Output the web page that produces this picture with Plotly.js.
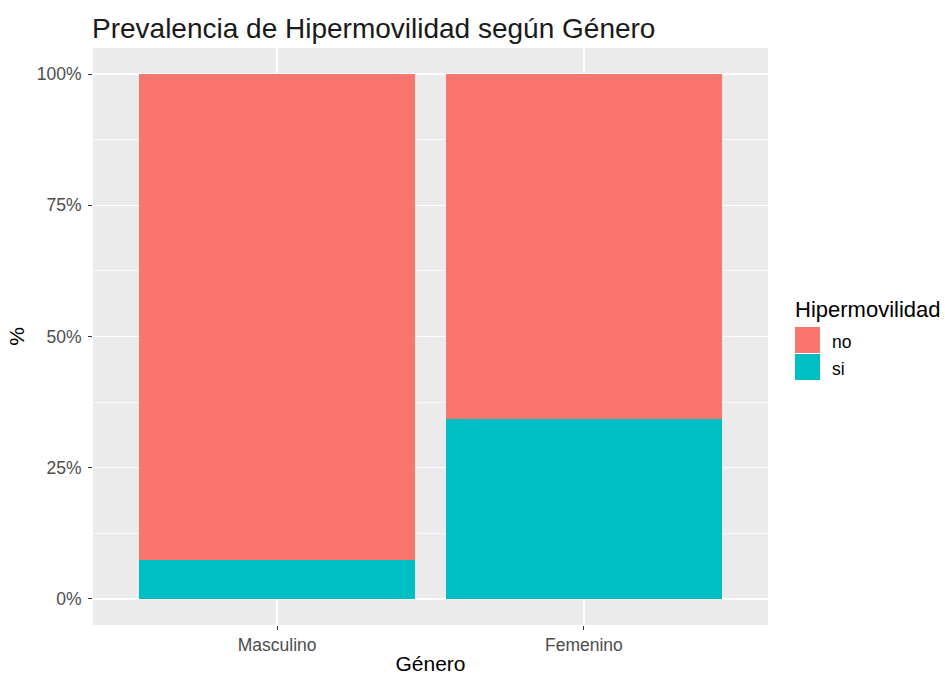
<!DOCTYPE html>
<html>
<head>
<meta charset="utf-8">
<script src="https://cdn.plot.ly/plotly-3.0.1.min.js"></script>
<style>html,body{margin:0;padding:0;background:#fff;}#chart{width:945px;height:675px;}</style>
</head>
<body>
<div id="chart"></div>
<script>
const categories = ["Masculino", "Femenino"];
const seriesNames = ["no", "si"];
const noValues = [0.926, 0.658];
const siValues = [0.074, 0.342];
const colors = {no: "#F8766D", si: "#00BFC4"};
const yTickVals = [0, 0.25, 0.5, 0.75, 1];
const yTickText = ["0%", "25%", "50%", "75%", "100%"];
const yMinorVals = [0.125, 0.375, 0.625, 0.875];

const FONT = "Liberation Sans, Arial, sans-serif";
const W = 945, H = 675;
const L = 93, R = 768, T = 48, B = 625;
const px = x => (x - L) / (R - L);
const py = y => (B - y) / (B - T);

const traces = [
  {type: "bar", name: "si", x: categories, y: siValues, marker: {color: colors.si, line: {width: 0}}, width: 0.9, showlegend: false, hoverinfo: "x+y"},
  {type: "bar", name: "no", x: categories, y: noValues, marker: {color: colors.no, line: {width: 0}}, width: 0.9, showlegend: false, hoverinfo: "x+y"}
];

// custom legend (ggplot style)
const shapes = [];
const annotations = [];
annotations.push({xref: "paper", yref: "paper", x: px(793), y: py(309), xanchor: "left", yanchor: "middle", text: "Hipermovilidad", showarrow: false, font: {family: FONT, size: 22, color: "#000"}});
seriesNames.forEach((n, i) => {
  const top = 327 + i * 27;
  shapes.push({type: "rect", xref: "paper", yref: "paper", x0: px(795), x1: px(820), y0: py(top + 26), y1: py(top), fillcolor: colors[n], line: {width: 0}, layer: "above"});
  annotations.push({xref: "paper", yref: "paper", x: px(830), y: py(top + 15), xanchor: "left", yanchor: "middle", text: n, showarrow: false, font: {family: FONT, size: 17.5, color: "#000"}});
});

const layout = {
  width: W, height: H,
  margin: {l: L, r: W - R, t: T, b: H - B, pad: 0},
  paper_bgcolor: "#FFFFFF",
  plot_bgcolor: "#EBEBEB",
  barmode: "stack",
  bargap: 0.1,
  showlegend: false,
  font: {family: FONT, color: "#4D4D4D"},
  title: {text: "Prevalencia de Hipermovilidad según Género", x: 92 / W, xanchor: "left", xref: "container", yref: "container", y: 1 - 28 / H, yanchor: "middle", font: {family: FONT, size: 28, color: "#1A1A1A"}},
  xaxis: {
    type: "category", range: [-0.6, 1.6], showgrid: true, gridcolor: "#FFFFFF", gridwidth: 1.5,
    zeroline: false, showline: false, ticks: "outside", ticklen: 4, tickwidth: 1, tickcolor: "#333333",
    tickfont: {family: FONT, size: 17.5, color: "#4D4D4D"},
    title: {text: "Género", font: {family: FONT, size: 21, color: "#000"}, standoff: 6}
  },
  yaxis: {
    range: [-0.05, 1.05], tickvals: yTickVals, ticktext: yTickText, showgrid: true, gridcolor: "#FFFFFF", gridwidth: 1.5,
    minor: {tickvals: yMinorVals, showgrid: true, gridcolor: "#FFFFFF", gridwidth: 0.7, ticks: ""},
    zeroline: false, showline: false, ticks: "outside", ticklen: 4, tickwidth: 1, tickcolor: "#333333",
    ticklabelstandoff: 3,
    tickfont: {family: FONT, size: 17.5, color: "#4D4D4D"},
    title: {text: "%", font: {family: FONT, size: 21, color: "#000"}, standoff: 6}
  },
  shapes: shapes,
  annotations: annotations
};

Plotly.newPlot("chart", traces, layout, {displayModeBar: false, staticPlot: true});
</script>
</body>
</html>
